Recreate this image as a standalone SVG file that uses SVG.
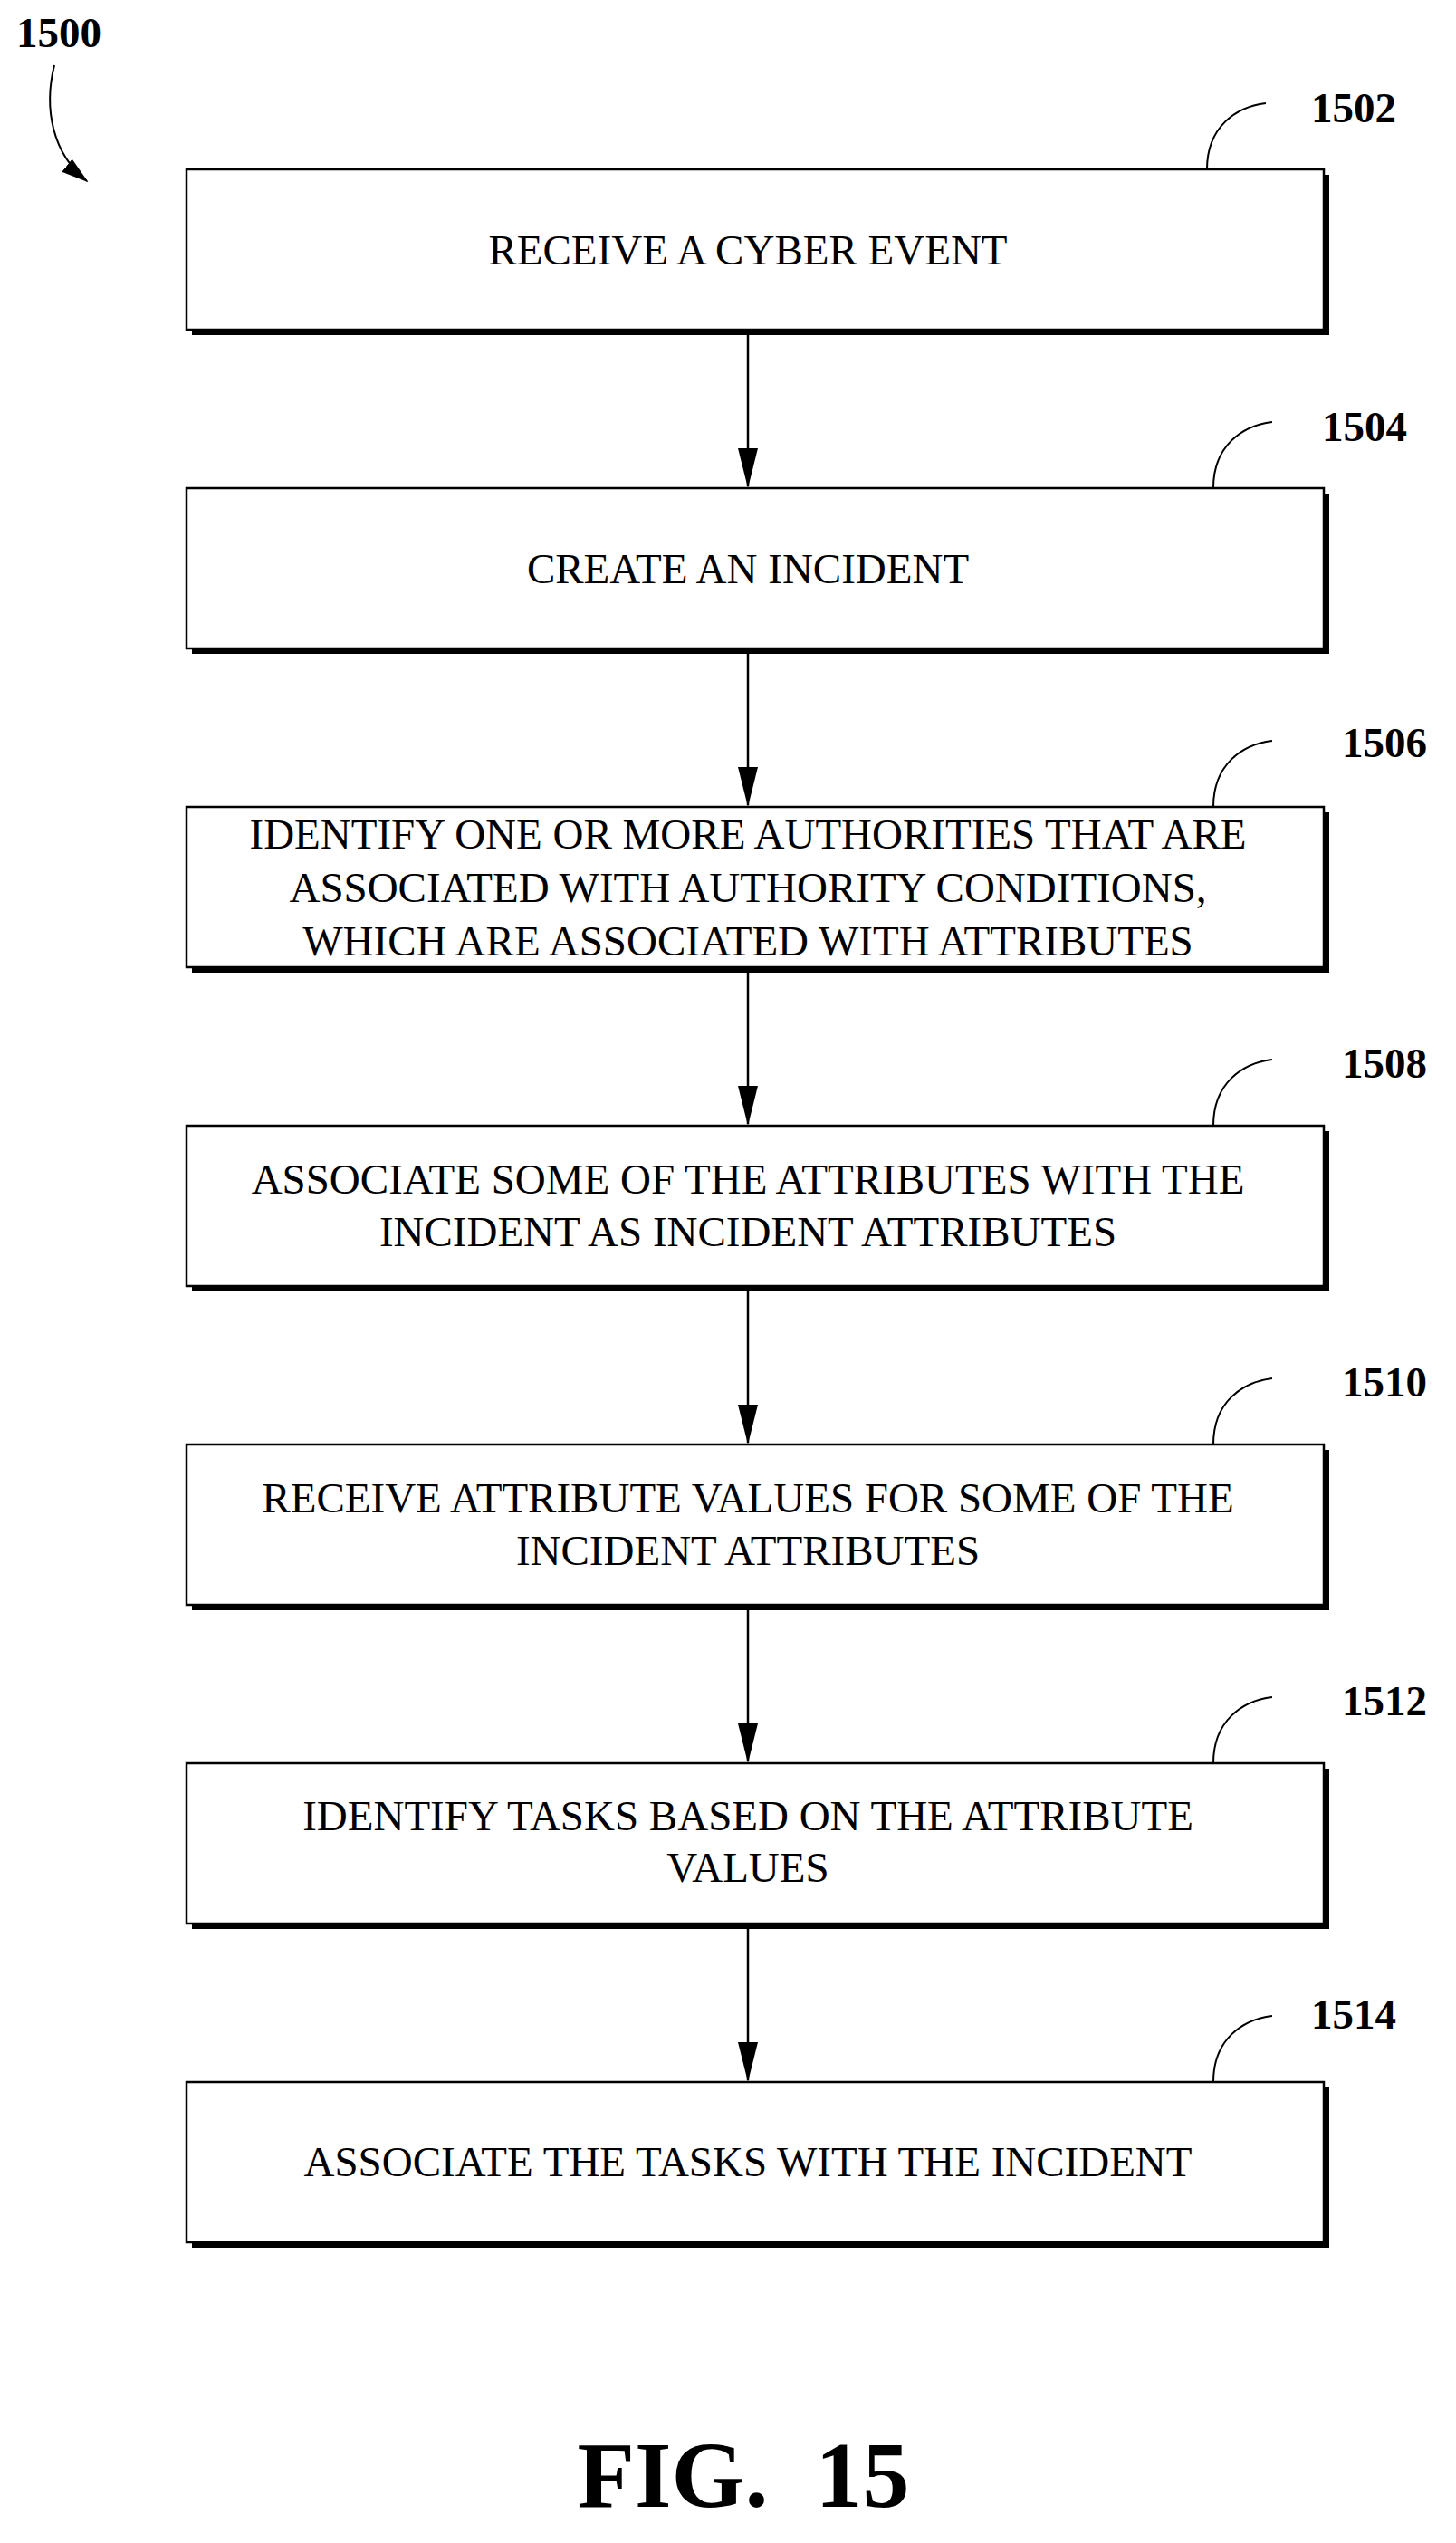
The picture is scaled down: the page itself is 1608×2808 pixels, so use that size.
<svg xmlns="http://www.w3.org/2000/svg" width="1608" height="2808" viewBox="0 0 1608 2808">
<style>
.box{fill:#fff;stroke:#000;stroke-width:2.5}
.sh{fill:#000}
.t{font-family:"Liberation Serif","Times New Roman",serif;font-size:47px;text-anchor:middle;fill:#000}
.lb{font-family:"Liberation Serif","Times New Roman",serif;font-size:47px;font-weight:bold;fill:#000}
.ld{fill:none;stroke:#000;stroke-width:2}
.c{stroke:#000;stroke-width:2.5;fill:none}
</style>
<defs>
<marker id="ah2" markerWidth="44" markerHeight="22" refX="42" refY="11" orient="auto" markerUnits="userSpaceOnUse" viewBox="0 0 44 22"><path d="M0,0 L44,11 L0,22 Z" fill="#000"/></marker>
<marker id="ah3" markerWidth="30" markerHeight="18" refX="28" refY="9" orient="auto" markerUnits="userSpaceOnUse" viewBox="0 0 30 18"><path d="M0,0 L30,9 L0,18 Z" fill="#000"/></marker>
</defs>
<g id="fig-label">
<text class="lb" x="18" y="52">1500</text>
<path class="ld" d="M60,72 C48,120 58,170 96,200" marker-end="url(#ah3)"/>
</g>
<g id="connectors">
<line class="c" x1="826" y1="366" x2="826" y2="537" marker-end="url(#ah2)"/>
<line class="c" x1="826" y1="718" x2="826" y2="889" marker-end="url(#ah2)"/>
<line class="c" x1="826" y1="1070" x2="826" y2="1241" marker-end="url(#ah2)"/>
<line class="c" x1="826" y1="1422" x2="826" y2="1593" marker-end="url(#ah2)"/>
<line class="c" x1="826" y1="1774" x2="826" y2="1945" marker-end="url(#ah2)"/>
<line class="c" x1="826" y1="2126" x2="826" y2="2297" marker-end="url(#ah2)"/>
</g>
<g id="n1502">
<rect class="sh" x="212" y="193" width="1256" height="177"/>
<rect class="box" x="206" y="187" width="1256" height="177"/>
<text class="t" x="826" y="292">RECEIVE A CYBER EVENT</text>
<path class="ld" d="M1333,187 C1333,140 1365,118 1398,114"/>
<text class="lb" x="1448" y="135">1502</text>
</g>
<g id="n1504">
<rect class="sh" x="212" y="545" width="1256" height="177"/>
<rect class="box" x="206" y="539" width="1256" height="177"/>
<text class="t" x="826" y="644">CREATE AN INCIDENT</text>
<path class="ld" d="M1340,539 C1340,492 1372,470 1405,466"/>
<text class="lb" x="1460" y="487">1504</text>
</g>
<g id="n1506">
<rect class="sh" x="212" y="897" width="1256" height="177"/>
<rect class="box" x="206" y="891" width="1256" height="177"/>
<text class="t" x="826" y="937">IDENTIFY ONE OR MORE AUTHORITIES THAT ARE</text>
<text class="t" x="826" y="996">ASSOCIATED WITH AUTHORITY CONDITIONS,</text>
<text class="t" x="826" y="1055">WHICH ARE ASSOCIATED WITH ATTRIBUTES</text>
<path class="ld" d="M1340,891 C1340,844 1372,822 1405,818"/>
<text class="lb" x="1482" y="836">1506</text>
</g>
<g id="n1508">
<rect class="sh" x="212" y="1249" width="1256" height="177"/>
<rect class="box" x="206" y="1243" width="1256" height="177"/>
<text class="t" x="826" y="1318">ASSOCIATE SOME OF THE ATTRIBUTES WITH THE</text>
<text class="t" x="826" y="1376">INCIDENT AS INCIDENT ATTRIBUTES</text>
<path class="ld" d="M1340,1243 C1340,1196 1372,1174 1405,1170"/>
<text class="lb" x="1482" y="1190">1508</text>
</g>
<g id="n1510">
<rect class="sh" x="212" y="1601" width="1256" height="177"/>
<rect class="box" x="206" y="1595" width="1256" height="177"/>
<text class="t" x="826" y="1670">RECEIVE ATTRIBUTE VALUES FOR SOME OF THE</text>
<text class="t" x="826" y="1728">INCIDENT ATTRIBUTES</text>
<path class="ld" d="M1340,1595 C1340,1548 1372,1526 1405,1522"/>
<text class="lb" x="1482" y="1542">1510</text>
</g>
<g id="n1512">
<rect class="sh" x="212" y="1953" width="1256" height="177"/>
<rect class="box" x="206" y="1947" width="1256" height="177"/>
<text class="t" x="826" y="2021">IDENTIFY TASKS BASED ON THE ATTRIBUTE</text>
<text class="t" x="826" y="2078">VALUES</text>
<path class="ld" d="M1340,1947 C1340,1900 1372,1878 1405,1874"/>
<text class="lb" x="1482" y="1894">1512</text>
</g>
<g id="n1514">
<rect class="sh" x="212" y="2305" width="1256" height="177"/>
<rect class="box" x="206" y="2299" width="1256" height="177"/>
<text class="t" x="826" y="2403">ASSOCIATE THE TASKS WITH THE INCIDENT</text>
<path class="ld" d="M1340,2299 C1340,2252 1372,2230 1405,2226"/>
<text class="lb" x="1448" y="2240">1514</text>
</g>
<text x="821" y="2768" text-anchor="middle" xml:space="preserve" style="font-family:'Liberation Serif','Times New Roman',serif;font-size:104px;font-weight:bold;white-space:pre">FIG.  15</text>
</svg>
